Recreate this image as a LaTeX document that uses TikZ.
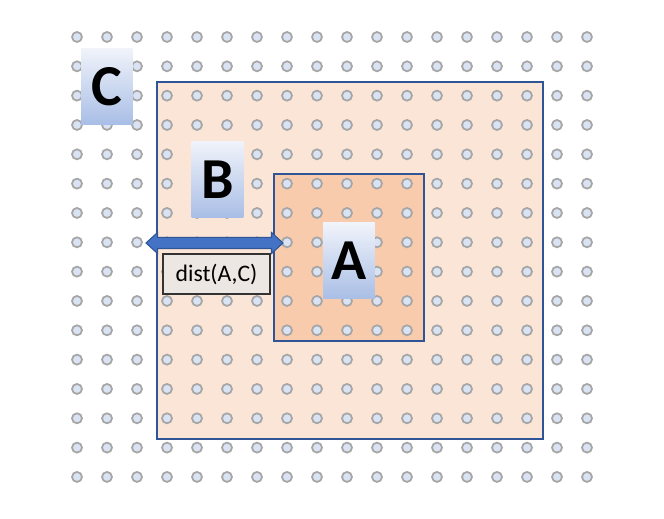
\documentclass[tikz,border=0pt]{standalone}
\usepackage{fontspec}
\setmainfont{Carlito}
\usetikzlibrary{shapes.arrows}
\definecolor{peach}{HTML}{FBE5D6}
\definecolor{peachdark}{HTML}{F8CBAD}
\definecolor{frame}{HTML}{2F5597}
\definecolor{dotfill}{HTML}{DAE3F3}
\definecolor{dotring}{HTML}{A6A6A6}
\definecolor{arrowblue}{HTML}{4472C4}
\definecolor{tagfill}{HTML}{EDE7E3}
\definecolor{labeltop}{HTML}{F0F3FA}
\definecolor{labelbottom}{HTML}{A9BEE6}
\begin{document}
\begin{tikzpicture}[x=0.02cm, y=-0.02cm,
		setbox/.style={fill=#1, draw=frame, line width=0.85pt},
		griddot/.style={fill=dotfill, draw=dotring, line width=1pt},
		setlabel/.style={top color=labeltop, bottom color=labelbottom, minimum width=1.04cm, minimum height=1.52cm, inner sep=0pt, font=\fontsize{33}{33}\selectfont\bfseries}]
			\useasboundingbox (0,0) rectangle (664,519);
			\draw [setbox=peach] (157,82) rectangle (543,439);
			\draw [setbox=peachdark] (274,174) rectangle (424,341);
			\foreach \i in {0,...,17}
				\foreach \j in {0,...,15}
					\draw [griddot] (77+30*\i, 37+29.33*\j) circle [radius=0.1cm];
			\node [setlabel] (labelC) at (107,86.5) {C};
			\node [setlabel] (labelB) at (217.5,179.5) {B};
			\node [setlabel] (labelA) at (349,261) {A};
			\node [double arrow, fill=arrowblue, draw=frame, line width=0.6pt, inner xsep=0pt, inner ysep=0.1cm, minimum height=2.74cm, minimum width=0.4cm, double arrow head extend=0.1cm, double arrow tip angle=85] (distarrow) at (214.5,243) {};
			\node [draw=black!80, fill=tagfill, line width=0.7pt, minimum width=2.14cm, minimum height=0.8cm, font=\fontsize{13.5}{14}\selectfont] (disttag) at (216.5,274) {dist(A,C)};
		\end{tikzpicture}
\end{document}
